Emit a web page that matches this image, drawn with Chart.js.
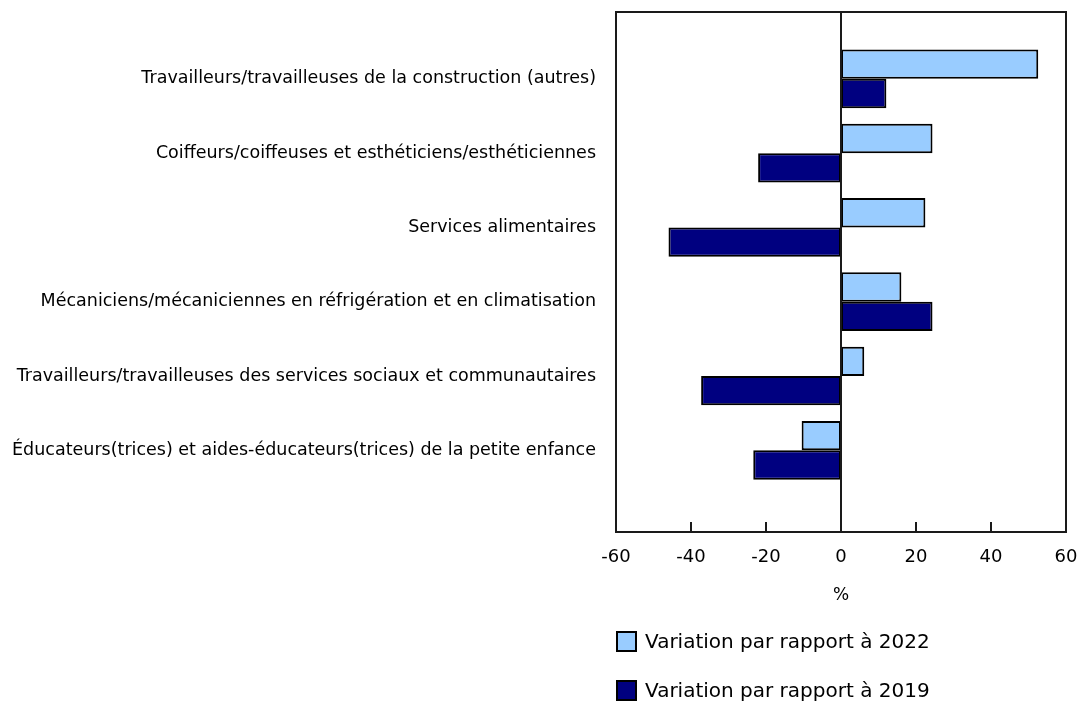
<!DOCTYPE html>
<html>
<head>
<meta charset="utf-8">
<script src="https://cdn.jsdelivr.net/npm/chart.js@4/dist/chart.umd.min.js"></script>
<style>
  body { margin: 0; background: #fff; font-family: "DejaVu Sans", Verdana, sans-serif; }
  #wrap { position: relative; width: 1080px; height: 704px; }
  .legend-item { position: absolute; left: 616px; display: flex; align-items: center; font-size: 20px; color: #000; }
  .legend-item span.box { width: 17px; height: 17px; border: 2px solid #000; margin-right: 8px; box-sizing: content-box; }
</style>
</head>
<body>
<div id="wrap">
  <canvas id="chart" width="1080" height="704"></canvas>
  <div class="legend-item" style="top:629px"><span class="box" style="background:#99ccff"></span>Variation par rapport à 2022</div>
  <div class="legend-item" style="top:678px"><span class="box" style="background:#000080"></span>Variation par rapport à 2019</div>
</div>
<script>
  // Categories (top to bottom)
  const categories = [
    'Travailleurs/travailleuses de la construction (autres)',
    'Coiffeurs/coiffeuses et esthéticiens/esthéticiennes',
    'Services alimentaires',
    'Mécaniciens/mécaniciennes en réfrigération et en climatisation',
    'Travailleurs/travailleuses des services sociaux et communautaires',
    'Éducateurs(trices) et aides-éducateurs(trices) de la petite enfance'
  ];

  // Series values (%)
  const vs2022 = [52.6, 24.4, 22.5, 16.1, 6.2, -10.5];
  const vs2019 = [12.1, -22.1, -46.0, 24.4, -37.3, -23.4];

  const seriesLabels = ['Variation par rapport à 2022', 'Variation par rapport à 2019'];
  const xTicks = [-60, -40, -20, 0, 20, 40, 60];

  const toPoints = arr => arr.map((v, i) => ({ x: v, y: i }));

  // Frame, zero line and inner tick marks
  const framePlugin = {
    id: 'frame',
    afterDatasetsDraw(chart) {
      const { ctx, chartArea, scales } = chart;
      ctx.save();
      ctx.strokeStyle = '#1a1a1a';
      ctx.lineWidth = 2;
      ctx.strokeRect(chartArea.left, chartArea.top, chartArea.right - chartArea.left, chartArea.bottom - chartArea.top);
      const x0 = scales.x.getPixelForValue(0);
      ctx.beginPath();
      ctx.moveTo(x0, chartArea.top);
      ctx.lineTo(x0, chartArea.bottom);
      ctx.stroke();
      xTicks.forEach(t => {
        const px = scales.x.getPixelForValue(t);
        ctx.beginPath();
        ctx.moveTo(px, chartArea.bottom);
        ctx.lineTo(px, chartArea.bottom - 10);
        ctx.stroke();
      });
      ctx.restore();
    }
  };

  new Chart(document.getElementById('chart'), {
    type: 'bar',
    data: {
      datasets: [
        {
          label: seriesLabels[0],
          data: toPoints(vs2022),
          backgroundColor: '#99ccff',
          borderColor: '#000',
          borderWidth: 2,
          borderSkipped: false,
          categoryPercentage: 0.79,
          barPercentage: 1.0
        },
        {
          label: seriesLabels[1],
          data: toPoints(vs2019),
          backgroundColor: '#000080',
          borderColor: '#000',
          borderWidth: 2,
          borderSkipped: false,
          categoryPercentage: 0.79,
          barPercentage: 1.0
        }
      ]
    },
    options: {
      indexAxis: 'y',
      responsive: false,
      animation: false,
      layout: {
        padding: { top: 12, right: 14, bottom: 82, left: 0 }
      },
      plugins: {
        legend: { display: false },
        tooltip: { enabled: false }
      },
      scales: {
        x: {
          type: 'linear',
          position: 'bottom',
          min: -60,
          max: 60,
          afterBuildTicks(scale) {
            scale.ticks = xTicks.map(v => ({ value: v }));
          },
          afterFit(scale) {
            scale.height = 90;
            scale.paddingLeft = 0;
            scale.paddingRight = 0;
          },
          grid: { display: false, drawTicks: false },
          border: { display: false },
          ticks: {
            padding: 15,
            color: '#000',
            font: { family: 'DejaVu Sans', size: 18 }
          },
          title: {
            display: true,
            text: '%',
            color: '#000',
            padding: { top: 4, bottom: 16 },
            font: { family: 'DejaVu Sans', size: 17 }
          }
        },
        y: {
          type: 'linear',
          reverse: true,
          offset: false,
          min: -0.9,
          max: 6.1,
          afterBuildTicks(scale) {
            scale.ticks = categories.map((c, i) => ({ value: i }));
          },
          afterFit(scale) {
            scale.width = 616;
            scale.paddingTop = 0;
            scale.paddingBottom = 0;
          },
          grid: { display: false, drawTicks: false, offset: false },
          border: { display: false },
          ticks: {
            padding: 20,
            color: '#000',
            font: { family: 'DejaVu Sans', size: 17.5 },
            callback: v => categories[v] || ''
          }
        }
      }
    },
    plugins: [framePlugin]
  });
</script>
</body>
</html>
